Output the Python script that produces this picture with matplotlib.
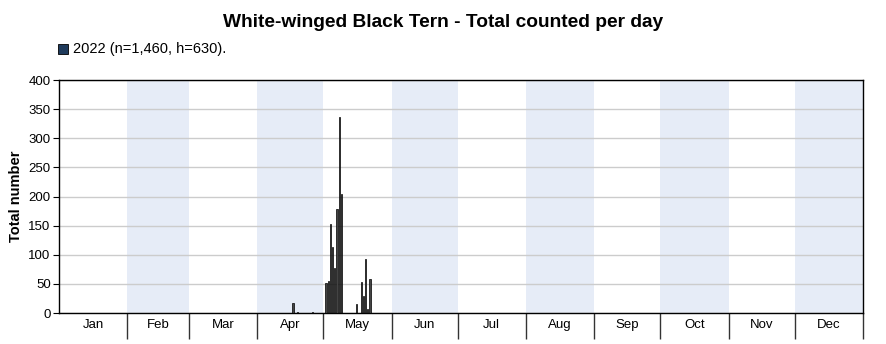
import matplotlib.pyplot as plt
from matplotlib.patches import Rectangle

plt.rcParams['font.family'] = ['Liberation Sans', 'DejaVu Sans']

# --- adatok ---
months = ['Jan', 'Feb', 'Mar', 'Apr', 'May', 'Jun', 'Jul', 'Aug', 'Sep', 'Oct', 'Nov', 'Dec']
month_days = [31, 28, 31, 30, 31, 30, 31, 31, 30, 31, 30, 31]
days = [106, 108, 115, 121, 122, 123, 124, 125, 126, 127, 128, 135, 137, 138, 139, 140, 141]
counts = [18, 2, 2, 51, 55, 152, 114, 77, 178, 337, 205, 15, 53, 30, 92, 7, 58]
legend_label = '2022 (n=1,460, h=630).'

starts = [0]
for d in month_days:
    starts.append(starts[-1] + d)

fig = plt.figure(figsize=(8.86, 3.44), dpi=100)
ax = fig.add_axes([0.0666, 0.0901, 0.9074, 0.6773])

# váltakozó hónap-sávok
for i in range(12):
    if i % 2 == 1:
        ax.axvspan(starts[i], starts[i + 1], color='#e6ecf7', zorder=0, lw=0)

ax.set_yticks(range(0, 401, 50))
ax.yaxis.grid(True, color='#cccccc', lw=1, zorder=1)
ax.set_axisbelow(True)

ax.bar([d + 0.2 for d in days], counts, width=0.6, color='#444444',
       edgecolor='black', lw=0.5, zorder=3)

ax.set_xlim(0, 365)
ax.set_ylim(0, 400)

# hónaphatár-jelölések, címkék középen
ax.set_xticks(starts[1:])
ax.set_xticklabels([])
ax.tick_params(axis='x', length=19, width=1, color='#333333')
ax.set_xticks([(starts[i] + starts[i + 1]) / 2 for i in range(12)], minor=True)
ax.set_xticklabels(months, minor=True, fontsize=9.5)
ax.tick_params(axis='x', which='minor', length=0, pad=4)
ax.tick_params(axis='y', length=4, labelsize=9.5, pad=2)

for s in ax.spines.values():
    s.set_color('black')
    s.set_linewidth(1)

ax.set_ylabel('Total number', fontsize=10.5, fontweight='bold', labelpad=4)

fig.text(0.5, 0.936, 'White-winged Black Tern - Total counted per day',
         ha='center', va='center', fontsize=13.8, fontweight='bold')

# jelmagyarázat
fig.patches.append(Rectangle((0.066, 0.844), 0.0113, 0.029, transform=fig.transFigure,
                             facecolor='#1f3b5c', edgecolor='black', lw=0.6))
fig.text(0.082, 0.858, legend_label, ha='left', va='center', fontsize=10.5)

plt.savefig('out.png', dpi=100)
